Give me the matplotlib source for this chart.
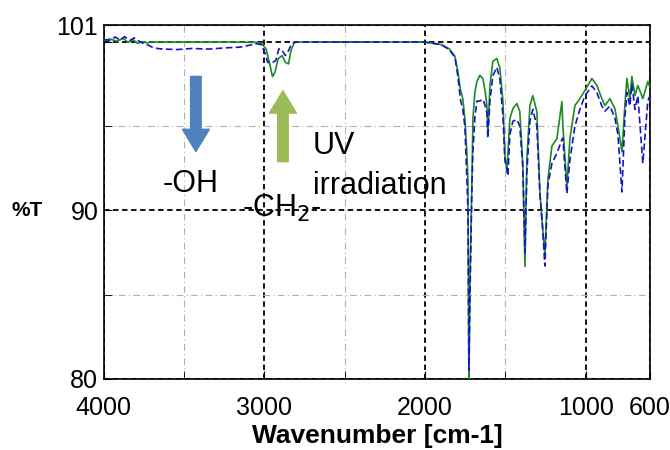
import matplotlib
matplotlib.use("Agg")
import matplotlib.pyplot as plt
from matplotlib.ticker import FixedLocator

plt.rcParams['font.family'] = ['Liberation Sans', 'DejaVu Sans']

# green trace (after UV irradiation), solid
wn_green = [4000, 3960, 3920, 3880, 3850, 3820, 3790, 3760, 3730, 3700,
            3600, 3400, 3200, 3050, 3020, 2990, 2965, 2950, 2935, 2915,
            2890, 2870, 2850, 2835, 2815, 2800, 2400, 2000, 1970, 1900,
            1850, 1814, 1796, 1780, 1765, 1752, 1740, 1733, 1727, 1720,
            1708, 1702, 1690, 1677, 1659, 1640, 1625, 1615, 1609, 1596,
            1578, 1553, 1534, 1515, 1503, 1490, 1472, 1453, 1428, 1410,
            1391, 1378, 1366, 1347, 1329, 1304, 1285, 1266, 1254, 1235,
            1210, 1179, 1148, 1142, 1117, 1098, 1067, 1036, 1005, 961,
            930, 899, 880, 849, 818, 799, 774, 756, 743, 725,
            712, 693, 675, 644, 613, 600]
t_green = [100.10, 100.18, 100.05, 100.22, 99.98, 100.15, 99.92, 100.02, 99.95, 100.00,
           100.00, 100.00, 100.00, 99.98, 99.92, 99.60, 98.60, 97.95, 98.20, 99.00,
           99.20, 98.80, 98.70, 99.50, 99.95, 100.00, 100.00, 100.00, 99.95, 99.85,
           99.60, 99.15, 98.26, 97.20, 96.64, 95.45, 93.50, 91.87, 79.50, 86.00,
           91.87, 95.45, 97.00, 97.66, 98.02, 97.84, 97.00, 96.23, 94.56, 97.42,
           98.85, 99.03, 98.43, 96.47, 93.24, 92.40, 95.45, 96.05, 96.35, 95.87,
           92.65, 86.68, 93.07, 96.23, 96.82, 95.87, 91.10, 88.71, 87.40, 91.87,
           93.84, 94.26, 96.47, 95.03, 91.45, 94.26, 96.23, 96.64, 97.12, 97.84,
           97.42, 96.64, 96.23, 96.64, 96.05, 95.03, 93.48, 96.23, 97.84, 96.64,
           97.96, 96.82, 97.42, 96.64, 97.66, 97.30]

# blue trace (before irradiation), dashed
wn_blue = [4000, 3960, 3930, 3900, 3870, 3840, 3810, 3780, 3750, 3720,
           3690, 3650, 3550, 3450, 3350, 3250, 3150, 3100, 3050, 3020,
           2995, 2980, 2955, 2930, 2910, 2890, 2870, 2850, 2830, 2810,
           2400, 2000, 1970, 1900, 1850, 1814, 1796, 1780, 1765, 1752,
           1740, 1733, 1727, 1720, 1708, 1702, 1690, 1677, 1659, 1640,
           1625, 1615, 1609, 1596, 1578, 1553, 1534, 1515, 1503, 1484,
           1472, 1453, 1428, 1410, 1391, 1378, 1366, 1347, 1329, 1304,
           1285, 1266, 1254, 1235, 1210, 1179, 1148, 1142, 1117, 1098,
           1067, 1036, 1005, 961, 930, 899, 880, 849, 818, 799,
           774, 756, 743, 725, 712, 693, 675, 644, 613, 600]
t_blue = [100.15, 100.10, 100.30, 100.12, 100.32, 100.08, 100.25, 100.05, 99.90, 99.80,
          99.65, 99.60, 99.55, 99.62, 99.58, 99.65, 99.70, 99.80, 99.90, 99.85,
          99.30, 98.80, 98.75, 98.90, 99.60, 99.50, 99.20, 99.50, 99.90, 100.00,
          100.00, 100.00, 99.95, 99.85, 99.55, 99.10, 98.00, 96.60, 96.00, 95.00,
          92.00, 90.00, 80.50, 85.00, 91.50, 93.50, 95.50, 96.50, 96.50, 96.60,
          96.20, 95.80, 94.30, 96.50, 98.00, 98.50, 97.80, 95.60, 93.00, 92.05,
          94.50, 95.30, 95.40, 95.00, 92.50, 87.50, 92.30, 95.30, 96.00, 95.00,
          91.00, 88.70, 86.70, 91.50, 92.80, 93.40, 94.20, 94.30, 91.00, 93.00,
          95.00, 96.00, 96.80, 97.40, 97.00, 96.20, 95.90, 96.20, 95.50, 94.50,
          91.10, 95.50, 97.00, 96.20, 97.50, 96.00, 96.80, 92.80, 96.50, 96.80]

x_major = [4000, 3000, 2000, 1000, 600]
x_minor = [3500, 2500, 1500]
y_major = [80, 90, 100, 101]
y_labels = ['80', '90', '', '101']
y_minor = [85, 95]

fig = plt.figure(figsize=(6.7, 4.5), dpi=100)
ax = fig.add_axes([0.155, 0.158, 0.815, 0.786])

ax.plot(wn_green, t_green, color='#1f8a1f', lw=1.2, zorder=3)
ax.plot(wn_blue, t_blue, color='#1515c8', lw=1.2, dashes=(4, 2), zorder=4)

ax.set_xlim(4000, 600)
ax.set_ylim(80, 101)
ax.set_xticks(x_major)
ax.set_xticklabels([str(v) for v in x_major])
ax.xaxis.set_minor_locator(FixedLocator(x_minor))
ax.set_yticks(y_major)
ax.set_yticklabels(y_labels)
ax.yaxis.set_minor_locator(FixedLocator(y_minor))

ax.grid(True, which='major', color='black', lw=1.3, linestyle=(0, (3, 2)), zorder=1)
ax.grid(True, which='minor', color='#b0b0b0', lw=0.8, linestyle=(0, (6, 3, 1, 3)), zorder=1)
ax.tick_params(which='both', direction='in', labelsize=18, length=6)
ax.tick_params(axis='x', pad=12)
ax.tick_params(axis='y', pad=4)
for s in ax.spines.values():
    s.set_linewidth(1.2)

ax.set_xlabel('Wavenumber [cm-1]', fontsize=19, fontweight='bold', labelpad=3)
ax.set_ylabel('%T', fontsize=15, fontweight='bold', rotation=0, va='center')
ax.yaxis.set_label_coords(-0.141, 0.476)

# arrows
ax.annotate('', xy=(3427, 93.5), xytext=(3427, 97.96),
            arrowprops=dict(arrowstyle='simple,head_length=0.8,head_width=0.97,tail_width=0.38',
                            color='#4f81bd', mutation_scale=20, shrinkA=0, shrinkB=0), zorder=5)
ax.annotate('', xy=(2885, 97.1), xytext=(2885, 92.9),
            arrowprops=dict(arrowstyle='simple,head_length=0.8,head_width=0.97,tail_width=0.38',
                            color='#9bbb59', mutation_scale=20, shrinkA=0, shrinkB=0), zorder=5)

ax.text(3633, 91.6, '-OH', fontsize=22, ha='left', va='center', zorder=6)
ax.text(3141, 90.1, '-CH$_2$-', fontsize=22, ha='left', va='center', zorder=6)
ax.text(2699, 93.8, 'UV', fontsize=22, ha='left', va='center', zorder=6)
ax.text(2699, 91.45, 'irradiation', fontsize=22, ha='left', va='center', zorder=6)

fig.savefig('out.png', dpi=100)
